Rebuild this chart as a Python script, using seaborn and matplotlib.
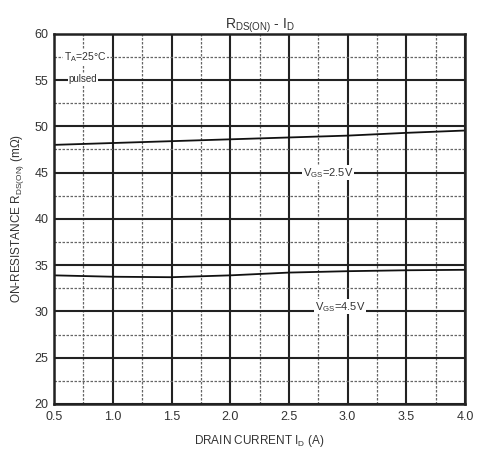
import matplotlib
matplotlib.use("Agg")
import matplotlib.pyplot as plt
import seaborn as sns
import pandas as pd
import numpy as np

sns.set_theme(style="white")
plt.rcParams['font.family'] = ['Liberation Sans', 'DejaVu Sans']

current = [0.5, 1.0, 1.5, 2.0, 2.5, 3.0, 3.5, 4.0]
r_vgs25 = [48.0, 48.2, 48.4, 48.6, 48.8, 49.0, 49.3, 49.55]
r_vgs45 = [33.9, 33.75, 33.7, 33.9, 34.2, 34.35, 34.45, 34.5]
series_names = ["VGS=2.5V", "VGS=4.5V"]

df = pd.DataFrame({
    "I": current * 2,
    "R": r_vgs25 + r_vgs45,
    "series": [series_names[0]] * len(current) + [series_names[1]] * len(current),
})

fig = plt.figure(figsize=(4.79, 4.57), dpi=100)
ax = fig.add_axes([0.113, 0.116, 0.858, 0.81])

ax.set_xlim(0.5, 4.0)
ax.set_ylim(20, 60)
ax.set_xticks(np.arange(0.5, 4.01, 0.5))
ax.set_yticks(np.arange(20, 61, 5))
ax.set_xticks(np.arange(0.75, 4.0, 0.5), minor=True)
ax.set_yticks(np.arange(22.5, 60, 5), minor=True)
ax.grid(which="major", color="#222222", linewidth=1.5, linestyle="-")
ax.grid(which="minor", color="#666666", linewidth=0.9, linestyle=(0, (2, 1.2)))
ax.set_axisbelow(True)

sns.lineplot(data=df, x="I", y="R", hue="series", palette=["#111111", "#111111"],
             linewidth=1.3, legend=False, ax=ax)

for s in ax.spines.values():
    s.set_color("#222222")
    s.set_linewidth(1.8)

ax.set_xticklabels([f"{v:.1f}" for v in np.arange(0.5, 4.01, 0.5)], fontsize=9, color="#333333")
ax.set_yticklabels([str(v) for v in range(20, 61, 5)], fontsize=9, color="#333333")
ax.tick_params(which="both", length=0)
ax.tick_params(axis="x", pad=5)
ax.tick_params(axis="y", pad=4)

ax.set_xlabel(r"DRAIN CURRENT I$_\mathregular{D}$ (A)", fontsize=8.5, color="#333333", labelpad=7)
ax.set_ylabel(r"ON-RESISTANCE R$_\mathregular{DS(ON)}$ (mΩ)", fontsize=8.5, color="#333333", labelpad=6)
ax.set_title(r"R$_\mathregular{DS(ON)}$ - I$_\mathregular{D}$", fontsize=10, color="#333333", pad=4)

bbox = dict(facecolor="white", edgecolor="none", pad=0.5)
ax.text(0.58, 57.5, "T$_\\mathregular{A}$=25°C", fontsize=7.5, color="#333333",
        ha="left", va="center", bbox=bbox)
ax.text(0.62, 55.1, "pulsed", fontsize=7, color="#333333", ha="left", va="center", bbox=bbox)
ax.text(2.62, 45.0, "V$_\\mathregular{GS}$=2.5V", fontsize=8, color="#333333",
        ha="left", va="center", bbox=bbox)
ax.text(2.72, 30.5, "V$_\\mathregular{GS}$=4.5V", fontsize=8, color="#333333",
        ha="left", va="center", bbox=bbox)

fig.savefig("out.png", dpi=100, facecolor="white")
